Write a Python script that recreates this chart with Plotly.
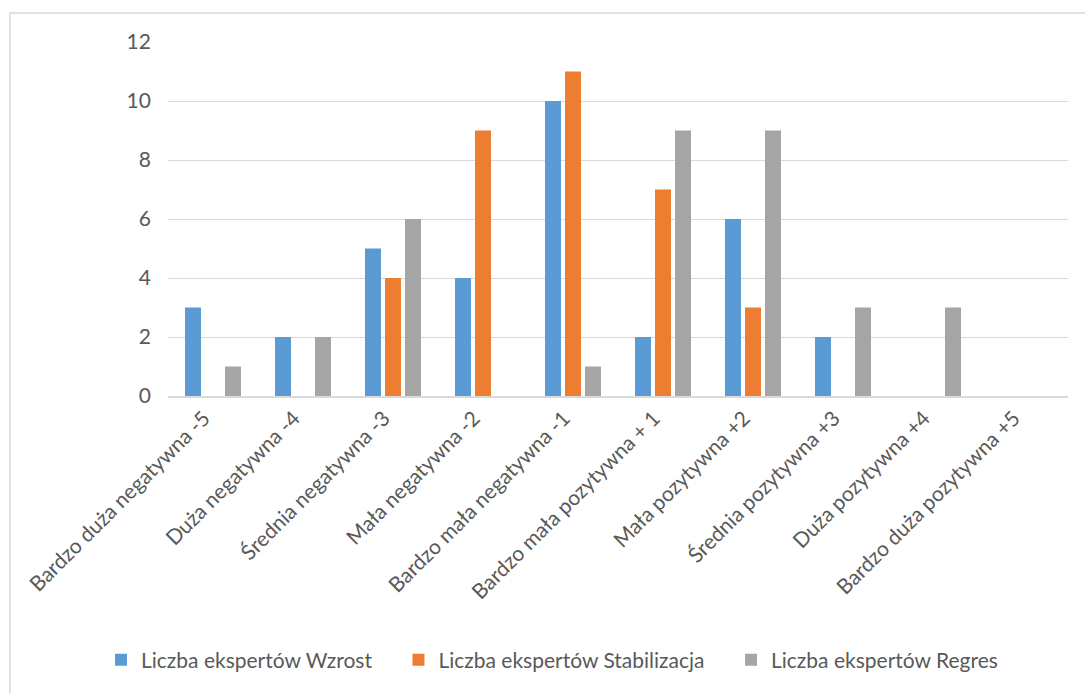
import plotly.graph_objects as go

categories = ["Bardzo duża negatywna -5", "Duża negatywna -4", "Średnia negatywna -3",
              "Mała negatywna -2", "Bardzo mała negatywna -1", "Bardzo mała pozytywna + 1",
              "Mała pozytywna +2", "Średnia pozytywna +3", "Duża pozytywna +4",
              "Bardzo duża pozytywna +5"]
wzrost = [3, 2, 5, 4, 10, 2, 6, 2, 0, 0]
stabilizacja = [0, 0, 4, 9, 11, 7, 3, 0, 0, 0]
regres = [1, 2, 6, 0, 1, 9, 9, 3, 3, 0]
series_names = ["Liczba ekspertów Wzrost", "Liczba ekspertów Stabilizacja", "Liczba ekspertów Regres"]
colors = ["#5B9BD5", "#ED7D31", "#A5A5A5"]

W, H = 1085, 693
L, R, T, B = 168, 17, 42, 297
pw, ph = W - L - R, H - T - B

fig = go.Figure()
pad = "\u00a0" * 4
for i, (name, vals, c) in enumerate(zip(series_names, [wzrost, stabilizacja, regres], colors)):
    label = name + (pad if i < len(series_names) - 1 else "")
    fig.add_trace(go.Bar(x=categories, y=vals, name=label, marker_color=c,
                         marker_line_width=0))

font = dict(family="Lato, 'Open Sans', sans-serif", size=21, color="#595959")
fig.update_layout(
    width=W, height=H,
    margin=dict(l=L, r=R, t=T, b=B),
    paper_bgcolor="white", plot_bgcolor="white",
    barmode="group", bargap=0.333, bargroupgap=0.2,
    font=font,
    showlegend=True,
    legend=dict(orientation="h", x=(552 - L) / pw, xanchor="center", y=(396 - 660) / ph,
                yanchor="middle", font=dict(size=21, color="#595959"),
                itemwidth=30, tracegroupgap=0),
    xaxis=dict(tickangle=-45, showgrid=False, showline=True, linecolor="#D9D9D9",
               linewidth=1.5, ticks="", tickfont=dict(size=21, color="#595959"),
               ticklabelshift=-9),
    yaxis=dict(range=[0, 12], dtick=2, showgrid=True, gridcolor="#D9D9D9", gridwidth=1.3,
               zeroline=False, showline=False, ticks="", ticklen=0,
               tickfont=dict(size=21, color="#595959")),
)
fig.update_yaxes(ticksuffix="   ")
fig.add_shape(type="rect", xref="paper", yref="paper",
              x0=(10 - L) / pw, x1=(1100 - L) / pw,
              y0=(396 - 710) / ph, y1=1 + (T - 13) / ph,
              line=dict(color="#D9D9D9", width=1.5), fillcolor="rgba(0,0,0,0)", layer="below")
fig.write_html("out.html", config={"displayModeBar": False},
               post_script="document.body.style.margin='0';document.body.style.overflow='hidden';")
